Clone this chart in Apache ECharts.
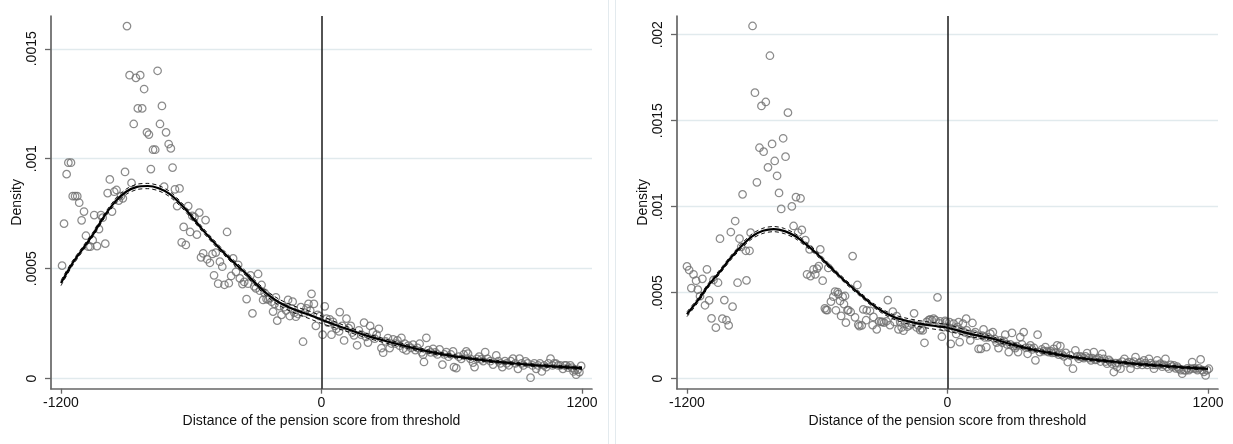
<!DOCTYPE html>
<html>
<head>
<meta charset="utf-8">
<script src="https://cdn.jsdelivr.net/npm/echarts@6/dist/echarts.min.js"></script>
<style>
html,body{margin:0;padding:0;background:#fff;}
#chart{width:1233px;height:444px;}
</style>
</head>
<body>
<div id="chart"></div>
<script>
// ---------- DATA ----------
const xTicks = [-1200, 0, 1200];
const xTickLabels = ['-1200', '0', '1200'];
const yTicksLeft = [0, 0.0005, 0.001, 0.0015];
const yTickLabelsLeft = ['0', '.0005', '.001', '.0015'];
const yTicksRight = [0, 0.0005, 0.001, 0.0015, 0.002];
const yTickLabelsRight = ['0', '.0005', '.001', '.0015', '.002'];
const xTitle = 'Distance of the pension score from threshold';
const yTitle = 'Density';
const cutoff = 0;

// Left panel: binned densities
const leftPoints = [
[-1195,0.000514],[-1186,0.000705],[-1174,0.00093],[-1166,0.000982],[-1154,0.000982],[-1146,0.00083],[-1135,0.00083],[-1125,0.00083],
[-1116,0.0008],[-1105,0.00072],[-1094,0.00076],[-1085,0.00065],[-1074,0.0006],[-1065,0.0006],[-1054,0.00063],[-1047,0.000744],
[-1034,0.000603],[-1025,0.00068],[-1016,0.000744],[-1008,0.000732],[-996,0.000614],[-985,0.000844],[-975,0.000906],[-965,0.00076],
[-955,0.00085],[-944,0.000858],[-934,0.00081],[-924,0.00083],[-915,0.00082],[-905,0.00094],[-896,0.001603],[-884,0.00138],
[-875,0.00089],[-865,0.001158],[-855,0.001368],[-846,0.001229],[-835,0.00138],[-826,0.001229],[-817,0.001317],[-804,0.00112],
[-795,0.00111],[-786,0.000953],[-776,0.001041],[-766,0.001041],[-755,0.0014],[-744,0.001158],[-735,0.00124],[-725,0.000873],
[-716,0.00112],[-704,0.001067],[-694,0.001047],[-686,0.00096],[-675,0.000861],[-665,0.000785],[-654,0.000865],[-644,0.00062],
[-635,0.00069],[-625,0.000608],[-614,0.000785],[-605,0.000667],[-595,0.00074],[-585,0.000735],[-574,0.000655],[-563,0.000755],
[-555,0.000552],[-545,0.00057],[-534,0.000721],[-527,0.000543],[-514,0.000527],[-502,0.000567],[-495,0.00047],[-487,0.000573],
[-476,0.000432],[-468,0.000532],[-457,0.000509],[-447,0.000427],[-435,0.000667],[-427,0.000434],[-416,0.000467],[-407,0.000547],
[-394,0.000486],[-384,0.000518],[-376,0.000456],[-364,0.00043],[-356,0.00044],[-345,0.000362],[-338,0.000432],[-327,0.00047],
[-318,0.000297],[-310,0.00042],[-302,0.000411],[-292,0.000476],[-284,0.0004],[-276,0.000426],[-269,0.000358],[-262,0.00039],
[-253,0.000362],[-245,0.00036],[-238,0.000367],[-230,0.00035],[-223,0.000305],[-216,0.00034],[-210,0.00037],[-204,0.000264],
[-194,0.00033],[-184,0.00029],[-172,0.000325],[-163,0.00031],[-154,0.000358],[-146,0.000285],[-138,0.00032],[-133,0.00035],
[-125,0.0003],[-118,0.000282],[-108,0.000294],[-95,0.000325],[-85,0.000168],[-77,0.0003],[-69,0.00032],[-60,0.00034],
[-52,0.00031],[-46,0.000386],[-35,0.00034],[-26,0.00024],[-18,0.00029],[-8,0.000284],[5,0.0002],[15,0.000329],
[23,0.000273],[30,0.000255],[38,0.00027],[46,0.0002],[53,0.000258],[62,0.00024],[69,0.000227],[81,0.000215],
[84,0.000303],[95,0.00024],[104,0.000174],[115,0.000273],[125,0.00023],[135,0.00024],[142,0.00021],[150,0.000197],
[164,0.000152],[172,0.00022],[183,0.0002],[196,0.000255],[205,0.00019],[214,0.000164],[224,0.00024],[237,0.000212],
[245,0.000182],[254,0.0002],[264,0.000227],[276,0.000139],[284,0.000118],[295,0.00017],[306,0.000185],[314,0.000139],
[322,0.00016],[330,0.000179],[340,0.00016],[350,0.000174],[360,0.00015],[368,0.000186],[376,0.000136],[383,0.00016],
[391,0.000129],[400,0.00015],[412,0.00014],[422,0.000155],[432,0.00013],[442,0.00014],[452,0.000159],[462,0.00012],
[468,0.000109],[472,0.000076],[483,0.000186],[492,0.00013],[503,0.00012],[514,0.000136],[524,0.00012],[534,0.00011],
[544,0.000133],[557,0.000064],[566,0.00011],[575,0.000121],[585,0.0001],[596,0.00011],[606,0.000124],[610,0.000053],
[621,0.000048],[632,0.0001],[644,0.00009],[655,0.00011],[667,0.000124],[675,0.000114],[686,0.00009],[698,0.000073],
[705,0.000053],[716,0.00009],[726,0.0001],[736,0.000088],[745,0.00008],[754,0.000121],[765,0.00009],[778,0.00008],
[790,0.000064],[805,0.000106],[815,0.00008],[824,0.00007],[833,0.000053],[845,0.00008],[853,0.00007],[863,0.000061],
[872,0.00008],[882,0.000091],[893,0.00007],[905,0.000045],[912,0.000091],[922,0.00007],[930,0.00006],[940,0.000079],
[950,0.00007],[963,0.0000045],[972,0.00006],[980,0.00007],[989,0.000045],[998,0.00006],[1006,0.00007],[1015,0.000033],
[1025,0.00006],[1035,0.000053],[1045,0.00007],[1055,0.000091],[1064,0.00006],[1072,0.00007],[1081,0.000068],[1090,0.00006],
[1100,0.00006],[1112,0.000045],[1120,0.00006],[1127,0.000061],[1136,0.00005],[1146,0.000061],[1154,0.00005],[1161,0.000033],
[1167,0.00004],[1173,0.000018],[1180,0.00004],[1188,0.00003],[1196,0.000058]
];

// Left panel: fitted density and its confidence band half-width
const leftFitX = [-1200,-1150,-1100,-1050,-1000,-950,-900,-850,-800,-750,-700,-650,-600,-550,-500,-450,-400,-350,-300,-250,-200,-150,-100,-50,0,100,200,300,400,500,600,700,800,900,1000,1100,1200];
const leftFitY = [0.000435,0.00052,0.00059,0.00066,0.00074,0.000805,0.00085,0.000872,0.000876,0.000866,0.00084,0.000795,0.00074,0.00068,0.000625,0.000573,0.000525,0.00048,0.00043,0.000385,0.00035,0.000325,0.000305,0.000288,0.000268,0.000232,0.000198,0.00017,0.000145,0.000122,0.000104,0.00009,0.000078,0.000068,0.00006,0.000054,0.000048];
const leftCIHalf = [0.000012,0.000011,0.00001,0.00001,0.00001,0.000011,0.000012,0.000012,0.000012,0.000012,0.000012,0.000011,0.000011,0.00001,0.00001,0.00001,0.00001,0.00001,0.000011,0.000012,0.000014,0.000015,0.000016,0.000017,0.000017,0.000012,0.00001,0.000009,0.000008,0.000007,0.000007,0.000006,0.000006,0.000006,0.000006,0.000006,0.000007];

// Right panel: binned densities
const rightPoints = [
[-1200,0.000653],[-1190,0.000632],[-1180,0.000527],[-1170,0.000607],[-1158,0.00057],[-1150,0.000518],[-1140,0.00048],[-1129,0.000581],
[-1117,0.000427],[-1108,0.000636],[-1098,0.000456],[-1087,0.000351],[-1078,0.000574],[-1067,0.000297],[-1057,0.000558],[-1048,0.000814],
[-1037,0.000349],[-1028,0.000457],[-1018,0.00034],[-1008,0.00031],[-998,0.000853],[-990,0.000419],[-978,0.000917],[-967,0.000558],
[-958,0.000814],[-950,0.000767],[-944,0.001072],[-929,0.000744],[-926,0.000572],[-912,0.000744],[-907,0.000849],[-898,0.002051],
[-887,0.001663],[-878,0.001142],[-866,0.001343],[-857,0.001586],[-847,0.00132],[-837,0.001609],[-827,0.001229],[-818,0.001878],
[-808,0.001365],[-796,0.001266],[-785,0.00118],[-776,0.00108],[-766,0.000987],[-757,0.001398],[-746,0.001291],[-735,0.001547],
[-717,0.001002],[-709,0.000888],[-698,0.001056],[-688,0.00085],[-677,0.001049],[-671,0.000865],[-655,0.000806],[-647,0.000607],
[-635,0.000752],[-631,0.000597],[-617,0.000636],[-609,0.000607],[-601,0.00064],[-593,0.000655],[-586,0.000752],[-575,0.00057],
[-565,0.000409],[-560,0.0004],[-554,0.000399],[-549,0.000644],[-537,0.000448],[-526,0.000477],[-518,0.000506],[-514,0.000398],
[-506,0.000504],[-503,0.000492],[-495,0.000452],[-490,0.000365],[-483,0.000477],[-477,0.000434],[-472,0.000481],[-468,0.000326],
[-461,0.000398],[-457,0.000399],[-446,0.000388],[-437,0.000713],[-426,0.000357],[-415,0.000545],[-411,0.000314],[-406,0.000306],
[-395,0.00031],[-388,0.000403],[-375,0.00034],[-372,0.000398],[-357,0.000395],[-345,0.000312],[-341,0.000359],[-326,0.000287],
[-315,0.000334],[-306,0.000331],[-300,0.00033],[-292,0.000326],[-281,0.000334],[-275,0.000457],[-265,0.000312],[-252,0.00039],
[-244,0.00033],[-234,0.000364],[-226,0.000287],[-218,0.00033],[-211,0.000298],[-203,0.000279],[-194,0.00032],[-185,0.000302],
[-175,0.00031],[-165,0.00032],[-154,0.00038],[-142,0.000298],[-134,0.00031],[-126,0.000283],[-119,0.000293],[-114,0.000281],
[-106,0.000209],[-96,0.000331],[-87,0.00034],[-80,0.000345],[-72,0.00034],[-64,0.000349],[-55,0.00034],[-46,0.000473],
[-37,0.000322],[-34,0.000333],[-26,0.000244],[-18,0.0003],[-11,0.000337],[-6,0.000329],[0,0.000302],[9,0.000329],
[15,0.000203],[22,0.00029],[28,0.00032],[36,0.00029],[40,0.00026],[46,0.000302],[51,0.000329],[56,0.000213],
[63,0.00028],[71,0.00032],[78,0.00027],[86,0.000349],[89,0.000281],[97,0.00026],[105,0.000223],[115,0.000324],
[122,0.00026],[128,0.000271],[136,0.00025],[143,0.000174],[154,0.000174],[160,0.00025],[166,0.000287],[172,0.00024],
[179,0.000184],[188,0.00024],[197,0.000262],[209,0.000271],[218,0.00023],[226,0.00021],[235,0.000178],[243,0.000223],
[252,0.00021],[259,0.00022],[266,0.000256],[274,0.0002],[282,0.000155],[289,0.0002],[297,0.000266],[304,0.00019],
[312,0.000178],[318,0.00019],[325,0.000155],[335,0.000242],[343,0.0002],[351,0.000271],[360,0.00018],[369,0.000145],
[375,0.00018],[382,0.000194],[390,0.00017],[398,0.00018],[405,0.000107],[415,0.000256],[425,0.000155],[435,0.00017],
[443,0.00016],[451,0.000184],[458,0.00016],[466,0.000155],[475,0.00016],[482,0.00015],[489,0.000174],[497,0.00015],
[505,0.000194],[512,0.00014],[520,0.00019],[528,0.00014],[536,0.00013],[545,0.00015],[554,0.000097],[566,0.000136],
[578,0.000058],[589,0.000165],[597,0.00013],[605,0.000116],[612,0.00013],[620,0.000126],[628,0.00012],[636,0.00013],
[643,0.000149],[652,0.00012],[661,0.000107],[667,0.00012],[674,0.000155],[681,0.00011],[689,0.000112],[697,0.00012],
[705,0.0001],[712,0.000145],[720,0.000116],[728,0.0001],[735,0.000087],[743,0.00011],[750,0.0001],[758,0.000087],
[766,0.000039],[774,0.00009],[781,0.000068],[789,0.00009],[797,0.000058],[805,0.0001],[815,0.000116],[825,0.00009],
[835,0.000097],[843,0.000058],[850,0.00009],[858,0.0001],[866,0.000126],[874,0.00008],[882,0.00009],[889,0.000097],
[897,0.00008],[905,0.000107],[912,0.00009],[920,0.00008],[928,0.000116],[936,0.00009],[944,0.00008],[951,0.000058],
[959,0.00008],[966,0.000107],[974,0.00008],[981,0.000087],[989,0.00007],[997,0.00008],[1004,0.000116],[1012,0.00007],
[1020,0.000058],[1028,0.00008],[1035,0.00007],[1043,0.000078],[1051,0.00006],[1058,0.00007],[1066,0.000058],[1074,0.00005],
[1081,0.000029],[1089,0.00005],[1097,0.000048],[1105,0.00006],[1112,0.00005],[1120,0.000058],[1127,0.000097],[1135,0.00006],
[1143,0.000058],[1151,0.00005],[1158,0.00006],[1166,0.000112],[1174,0.00005],[1181,0.00004],[1189,0.000019],[1196,0.00005],
[1204,0.000058]
];

// Right panel: fitted density and its confidence band half-width
const rightFitX = [-1200,-1150,-1100,-1050,-1000,-950,-900,-850,-800,-750,-700,-650,-600,-550,-500,-450,-400,-350,-300,-250,-200,-150,-100,-50,0,100,200,300,400,500,600,700,800,900,1000,1100,1200];
const rightFitY = [0.000375,0.000455,0.000545,0.00062,0.0007,0.00077,0.000828,0.00086,0.00087,0.000858,0.000828,0.00078,0.000725,0.000662,0.0006,0.000542,0.000488,0.000435,0.000392,0.00036,0.00034,0.000325,0.000314,0.000305,0.000296,0.000262,0.000235,0.000198,0.000167,0.000143,0.000122,0.000107,0.000095,0.000083,0.000074,0.000065,0.000057];
const rightCIHalf = [0.000014,0.000013,0.000012,0.000012,0.000012,0.000013,0.000014,0.000015,0.000015,0.000015,0.000014,0.000013,0.000012,0.000012,0.000011,0.000011,0.000011,0.000011,0.000012,0.000013,0.000015,0.000017,0.000018,0.000019,0.000019,0.000016,0.000012,0.00001,0.000009,0.000008,0.000007,0.000007,0.000007,0.000007,0.000007,0.000007,0.000008];

// ---------- CHART ----------
const FONT = '"Liberation Sans", Arial, Helvetica, sans-serif';
const pair = (xs, ys) => xs.map((x, i) => [x, ys[i]]);
const shifted = (xs, ys, hs, s) => xs.map((x, i) => [x, ys[i] + s * hs[i]]);

function xAxisCfg(gi) {
  return {
    gridIndex: gi, type: 'value', min: -1246, max: 1246,
    name: xTitle, nameLocation: 'middle', nameGap: 24,
    nameTextStyle: { fontFamily: FONT, fontSize: 14, color: '#111' },
    axisLine: { show: true, onZero: false, lineStyle: { color: '#666', width: 1.7 } },
    axisTick: { show: true, length: 5, customValues: xTicks, lineStyle: { color: '#666', width: 1.3 } },
    axisLabel: { show: true, customValues: xTicks, margin: 7, fontFamily: FONT, fontSize: 14, color: '#111',
      formatter: v => { const i = xTicks.indexOf(v); return i >= 0 ? xTickLabels[i] : ''; } },
    splitLine: { show: false }
  };
}
function yAxisCfg(gi, ymin, ymax, ticks, labels) {
  return {
    gridIndex: gi, type: 'value', min: ymin, max: ymax,
    name: yTitle, nameLocation: 'middle', nameGap: 27,
    nameTextStyle: { fontFamily: FONT, fontSize: 14, color: '#111' },
    axisLine: { show: true, onZero: false, lineStyle: { color: '#666', width: 1.7 } },
    axisTick: { show: true, length: 6, customValues: ticks, lineStyle: { color: '#666', width: 1.3 } },
    axisLabel: { show: true, customValues: ticks, rotate: 90, margin: 12, fontFamily: FONT, fontSize: 14, color: '#111',
      formatter: v => { const i = ticks.indexOf(v); return i >= 0 ? labels[i] : ''; } },
    splitLine: { show: false }
  };
}
function panelSeries(gi, points, fx, fy, ch, ticks) {
  return [
    { type: 'line', xAxisIndex: gi, yAxisIndex: gi, data: pair(fx, fy), showSymbol: false, z: 0,
      lineStyle: { opacity: 0 }, silent: true,
      markLine: { silent: true, symbol: 'none', z: 0, precision: 10, animation: false, label: { show: false },
        lineStyle: { color: '#e1eaed', width: 1.3, type: 'solid', opacity: 1 },
        emphasis: { disabled: true },
        data: ticks.map(v => ({ yAxis: v })) } },
    { type: 'scatter', xAxisIndex: gi, yAxisIndex: gi, data: points, symbol: 'circle', symbolSize: 7.5, z: 2,
      itemStyle: { color: 'rgba(0,0,0,0)', borderColor: '#6e6e6e', borderWidth: 1.25 } },
    { type: 'line', xAxisIndex: gi, yAxisIndex: gi, data: shifted(fx, fy, ch, 1), showSymbol: false, smooth: 0.3, z: 3,
      lineStyle: { color: '#111', width: 1, type: [4, 3] } },
    { type: 'line', xAxisIndex: gi, yAxisIndex: gi, data: shifted(fx, fy, ch, -1), showSymbol: false, smooth: 0.3, z: 3,
      lineStyle: { color: '#111', width: 1, type: [4, 3] } },
    { type: 'line', xAxisIndex: gi, yAxisIndex: gi, data: pair(fx, fy), showSymbol: false, smooth: 0.3, z: 4,
      lineStyle: { color: '#000', width: 2.2 },
      markLine: { silent: true, symbol: 'none', z: 5, precision: 10, animation: false, label: { show: false },
        lineStyle: { color: '#1a1a1a', width: 1.5, type: 'solid' },
        emphasis: { disabled: true },
        data: [{ xAxis: cutoff }] } }
  ];
}

const chart = echarts.init(document.getElementById('chart'), null, { renderer: 'canvas' });
chart.setOption({
  animation: false,
  backgroundColor: '#ffffff',
  textStyle: { fontFamily: FONT },
  grid: [
    { left: 51, top: 16, width: 541, height: 372.7 },
    { left: 677, top: 16, width: 541, height: 372.7 }
  ],
  xAxis: [xAxisCfg(0), xAxisCfg(1)],
  yAxis: [
    yAxisCfg(0, -0.0000455, 0.001649, yTicksLeft, yTickLabelsLeft),
    yAxisCfg(1, -0.0000581, 0.002109, yTicksRight, yTickLabelsRight)
  ],
  graphic: [
    { type: 'line', shape: { x1: 608.5, y1: 0, x2: 608.5, y2: 444 }, style: { stroke: '#e3eaee', lineWidth: 1 }, silent: true },
    { type: 'line', shape: { x1: 615.5, y1: 0, x2: 615.5, y2: 444 }, style: { stroke: '#e3eaee', lineWidth: 1 }, silent: true }
  ],
  series: [
    ...panelSeries(0, leftPoints, leftFitX, leftFitY, leftCIHalf, yTicksLeft),
    ...panelSeries(1, rightPoints, rightFitX, rightFitY, rightCIHalf, yTicksRight)
  ]
});
</script>
</body>
</html>
